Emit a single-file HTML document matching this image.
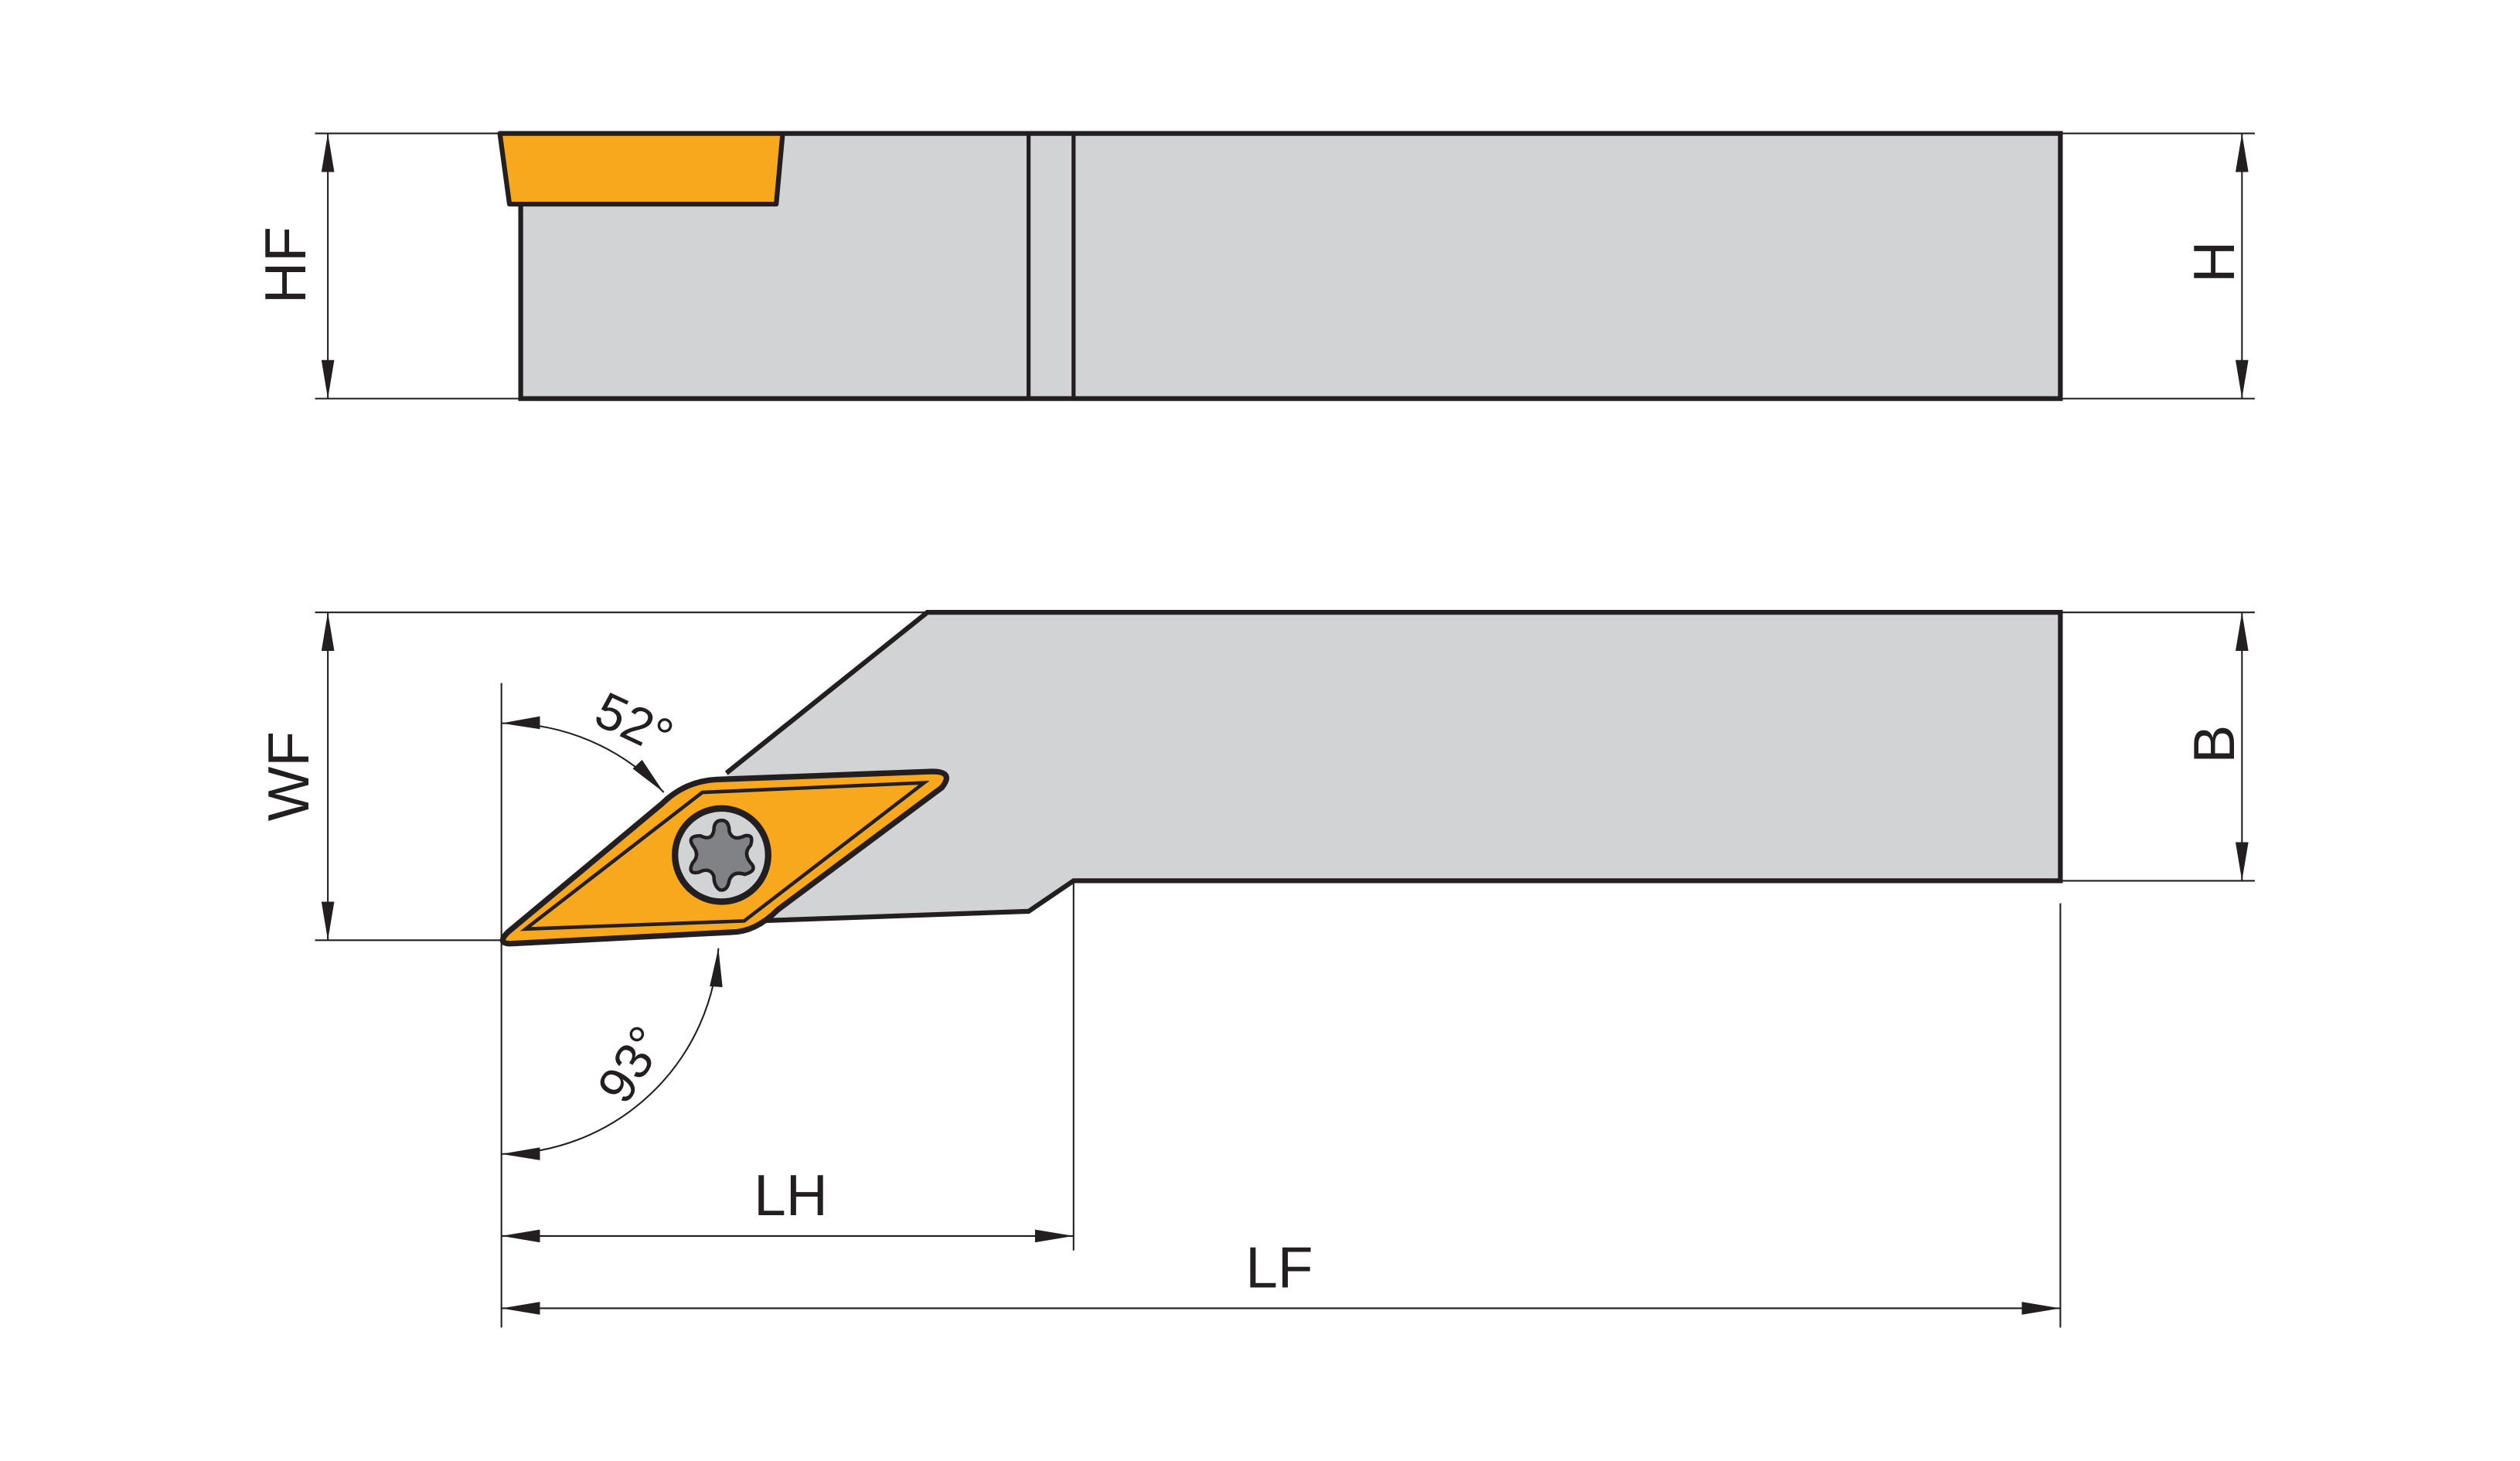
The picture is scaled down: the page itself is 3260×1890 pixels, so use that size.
<!DOCTYPE html>
<html><head><meta charset="utf-8"><style>
html,body{margin:0;padding:0;background:#fff;}
svg{display:block;}
text{font-family:"Liberation Sans",sans-serif;fill:#231f20;}
</style></head><body>
<svg width="3260" height="1890" viewBox="0 0 1568 909" preserveAspectRatio="none" xmlns="http://www.w3.org/2000/svg">
<defs>
<marker id="a" viewBox="0 0 24 8" refX="24" refY="4" markerWidth="24" markerHeight="8" markerUnits="userSpaceOnUse" orient="auto-start-reverse">
<path d="M0,0 L24,4 L0,8 Z" fill="#231f20"/>
</marker>
</defs>
<g stroke="#231f20" stroke-width="1" fill="none">
<line x1="196" y1="83" x2="311" y2="83"/>
<line x1="196" y1="248" x2="324" y2="248"/>
<line x1="1282" y1="83" x2="1403" y2="83"/>
<line x1="1282" y1="248" x2="1403" y2="248"/>
<line x1="204" y1="83" x2="204" y2="248" marker-start="url(#a)" marker-end="url(#a)"/>
<line x1="1395" y1="83" x2="1395" y2="248" marker-start="url(#a)" marker-end="url(#a)"/>
<line x1="196" y1="381" x2="577" y2="381"/>
<line x1="196" y1="585" x2="312" y2="585"/>
<line x1="1282" y1="381" x2="1403" y2="381"/>
<line x1="1282" y1="548" x2="1403" y2="548"/>
<line x1="204" y1="381" x2="204" y2="585" marker-start="url(#a)" marker-end="url(#a)"/>
<line x1="1395" y1="381" x2="1395" y2="548" marker-start="url(#a)" marker-end="url(#a)"/>
<line x1="312" y1="425" x2="312" y2="826"/>
<line x1="668" y1="548" x2="668" y2="778"/>
<line x1="1282" y1="562" x2="1282" y2="826"/>
<line x1="312" y1="769" x2="668" y2="769" marker-start="url(#a)" marker-end="url(#a)"/>
<line x1="312" y1="814" x2="1282" y2="814" marker-start="url(#a)" marker-end="url(#a)"/>
<path d="M312,450 A136,136 0 0 1 413,493" marker-start="url(#a)" marker-end="url(#a)"/>
<path d="M447,590 A136,136 0 0 1 312,718" marker-start="url(#a)" marker-end="url(#a)"/>
</g>
<path d="M324,127 L324,248 L1282,248 L1282,83 L487,83" fill="#d1d3d5" stroke="#231f20" stroke-width="3"/>
<rect x="487" y="85" width="10" height="40" fill="#d1d3d5"/>
<line x1="640" y1="83" x2="640" y2="248" stroke="#231f20" stroke-width="2.5"/>
<line x1="668" y1="83" x2="668" y2="248" stroke="#231f20" stroke-width="2.5"/>
<path d="M311,83 L487,83 L483,127 L317,127 Z" fill="#f8a81d" stroke="#231f20" stroke-width="3" stroke-linejoin="round"/>
<path d="M452,481 L577,381 L1282,381 L1282,548 L668,548 L640,567 L470,573" fill="#d1d3d5" stroke="#231f20" stroke-width="3"/>
<path d="M316,580 L412,500 Q426,486 446,485 L580,480 Q594,480 586,490 L484,566 Q470,580 455,580 L320,587 Q308,588 316,580 Z" fill="#f8a81d" stroke="#231f20" stroke-width="3.5" stroke-linejoin="round"/>
<path d="M327,578 L437,493 L575,487 L463,573 Z" fill="none" stroke="#231f20" stroke-width="2.2"/>
<circle cx="449" cy="532" r="31" fill="#231f20"/>
<circle cx="449" cy="532" r="27" fill="#d1d3d5"/>
<g transform="translate(449,532) scale(1.2) translate(-449,-532)">
<path d="M449,514 Q453,514 453,520 Q455,525 461,522 Q466,521 464,527 Q460,531 464,536 Q468,540 461,542 Q455,540 453,545 Q452,551 448,550 Q445,548 445,543 Q443,538 437,541 Q431,542 434,536 Q438,532 434,527 Q431,522 438,522 Q444,525 445,519 Q445,514 449,514 Z" fill="#808285" stroke="#231f20" stroke-width="1.8"/>
</g>
<text font-size="36" text-anchor="middle" transform="translate(190,165) rotate(-90)">HF</text>
<text font-size="36" text-anchor="middle" transform="translate(1390,163) rotate(-90)">H</text>
<text font-size="36" text-anchor="middle" transform="translate(192,483) rotate(-90)">WF</text>
<text font-size="36" text-anchor="middle" transform="translate(1390,463) rotate(-90)">B</text>
<text x="492" y="756" font-size="36" text-anchor="middle">LH</text>
<text x="796" y="801" font-size="36" text-anchor="middle">LF</text>
<text font-size="32" text-anchor="middle" transform="translate(390,460) rotate(25)">52°</text>
<text font-size="32" text-anchor="middle" transform="translate(402,668) rotate(-58)">93°</text>
</svg>
</body></html>
